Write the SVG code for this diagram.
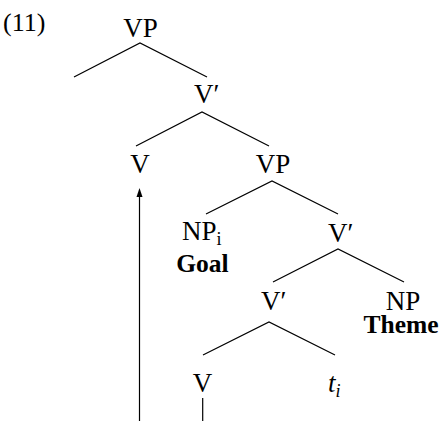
<svg xmlns="http://www.w3.org/2000/svg" width="442" height="421" viewBox="0 0 442 421">
<defs>
<style>
text{font-family:"Liberation Serif","DejaVu Serif",serif;font-size:27px;fill:#000}
.b{font-weight:bold;font-size:25.5px}
.sub{font-size:18px}
.it{font-style:italic}
.e{stroke:#000;stroke-width:1.2;fill:none}
</style>
</defs>
<text x="3" y="31" style="font-size:26px">(11)</text>
<g id="connectors">
<path class="e" d="M74,77 L140,43 L207,77"/>
<path class="e" d="M136,146 L202,112 L269,146"/>
<path class="e" d="M206,214 L272,181 L338,214"/>
<path class="e" d="M273,282 L338,249 L404,282"/>
<path class="e" d="M203,355 L269,322 L335,355"/>
<line class="e" x1="202.7" y1="398" x2="202.7" y2="421"/>
<line class="e" x1="139.5" y1="421" x2="139.5" y2="197"/>
<path d="M136.5,197 L139.5,188 L142.5,197 Z" fill="#000"/>
</g>
<g id="vp1"><text x="140.5" y="37" text-anchor="middle">VP</text></g>
<g id="vbar1"><text x="194" y="103">V′</text></g>
<g id="v1"><text x="140" y="173" text-anchor="middle">V</text></g>
<g id="vp2"><text x="273" y="173" text-anchor="middle">VP</text></g>
<g id="npi"><text x="182" y="240">NP<tspan class="sub" dy="5">i</tspan></text><text class="b" x="202.5" y="272" text-anchor="middle">Goal</text></g>
<g id="vbar2"><text x="328" y="242">V′</text></g>
<g id="vbar3"><text x="261" y="310">V′</text></g>
<g id="np"><text x="403" y="310" text-anchor="middle">NP</text><text class="b" x="401" y="333" text-anchor="middle">Theme</text></g>
<g id="v2"><text x="202.5" y="392" text-anchor="middle">V</text></g>
<g id="ti"><text class="it" x="328" y="392">t<tspan class="sub" dy="5">i</tspan></text></g>
</svg>
